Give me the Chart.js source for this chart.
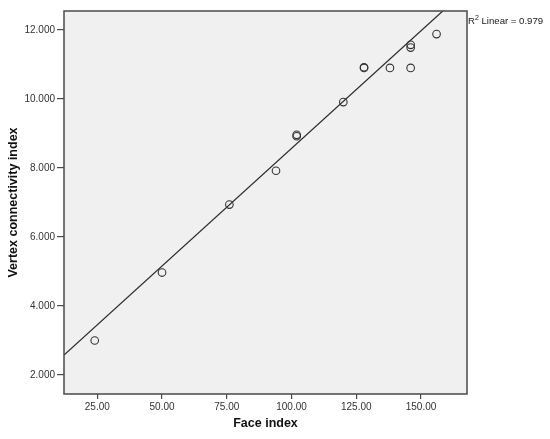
<!DOCTYPE html>
<html>
<head>
<meta charset="utf-8">
<script src="https://cdn.jsdelivr.net/npm/chart.js@4/dist/chart.umd.min.js"></script>
<style>
  html, body { margin: 0; padding: 0; background: #ffffff; }
  #wrap { width: 550px; height: 439px; }
</style>
</head>
<body>
<div id="wrap"><canvas id="c" width="550" height="439"></canvas></div>
<script>
// Data
const faceIndex   = [24, 50, 76, 94, 102, 102, 120, 128, 128, 138, 146, 146, 146, 156];
const vertexIndex = [3.00, 4.97, 6.94, 7.92, 8.92, 8.96, 9.91, 10.90, 10.92, 10.90, 10.90, 11.49, 11.57, 11.88];
const fitLineX = [12.14, 158.4];
const fitLineY = [2.58, 12.55];
const xTicks = [25, 50, 75, 100, 125, 150];
const yTicks = [2, 4, 6, 8, 10, 12];
const r2Text = '0.979';
const xTitle = 'Face index';
const yTitle = 'Vertex connectivity index';

const points = faceIndex.map((x, i) => ({ x: x, y: vertexIndex[i] }));
const fitPts = fitLineX.map((x, i) => ({ x: x, y: fitLineY[i] }));

const plotBg = {
  id: 'plotBg',
  beforeDraw(chart) {
    const { ctx, chartArea: a } = chart;
    ctx.save();
    ctx.fillStyle = '#f0f0f0';
    ctx.fillRect(a.left, a.top, a.right - a.left, a.bottom - a.top);
    ctx.restore();
  },
  afterDraw(chart) {
    const { ctx, chartArea: a } = chart;
    ctx.save();
    ctx.strokeStyle = '#4a4a4a';
    ctx.lineWidth = 1.5;
    ctx.strokeRect(a.left, a.top, a.right - a.left, a.bottom - a.top);
    // R² annotation
    ctx.fillStyle = '#222';
    ctx.textBaseline = 'alphabetic';
    ctx.textAlign = 'left';
    let x = a.right + 1, y = 24;
    ctx.font = '9.6px Arial, "Liberation Sans", sans-serif';
    ctx.fillText('R', x, y);
    x += ctx.measureText('R').width;
    ctx.font = '7px Arial, "Liberation Sans", sans-serif';
    ctx.fillText('2', x, y - 4);
    x += ctx.measureText('2').width;
    ctx.font = '9.6px Arial, "Liberation Sans", sans-serif';
    ctx.fillText(' Linear = ' + r2Text, x, y);
    ctx.restore();
  }
};

new Chart(document.getElementById('c'), {
  type: 'scatter',
  data: {
    datasets: [
      {
        type: 'line',
        data: fitPts,
        borderColor: '#2a2a2a',
        borderWidth: 1.2,
        pointRadius: 0,
        fill: false,
        order: 2
      },
      {
        type: 'scatter',
        data: points,
        pointStyle: 'circle',
        pointRadius: 3.8,
        borderWidth: 1.1,
        borderColor: '#333333',
        backgroundColor: 'rgba(0,0,0,0)',
        order: 1
      }
    ]
  },
  options: {
    responsive: false,
    animation: false,
    events: [],
    layout: { padding: { top: 11, right: 83, left: 0, bottom: 0 } },
    plugins: { legend: { display: false }, tooltip: { enabled: false } },
    scales: {
      x: {
        type: 'linear',
        min: 12.14,
        max: 167.76,
        afterFit(s) { s.height = 45; },
        afterBuildTicks(s) { s.ticks = xTicks.map(v => ({ value: v })); },
        grid: { display: true, drawOnChartArea: false, drawTicks: true, tickLength: 5, color: '#4a4a4a', lineWidth: 1.2 },
        border: { display: false },
        ticks: {
          padding: 2,
          color: '#333',
          font: { family: 'Arial, "Liberation Sans", sans-serif', size: 10 },
          maxRotation: 0,
          callback: v => Number(v).toFixed(2)
        },
        title: {
          display: true,
          text: xTitle,
          color: '#111',
          font: { family: 'Arial, "Liberation Sans", sans-serif', size: 12.5, weight: 'bold' },
          padding: { top: 0, bottom: 7.5 }
        }
      },
      y: {
        type: 'linear',
        min: 1.45,
        max: 12.55,
        afterFit(s) { s.width = 64; },
        afterBuildTicks(s) { s.ticks = yTicks.map(v => ({ value: v })); },
        grid: { display: true, drawOnChartArea: false, drawTicks: true, tickLength: 7, color: '#4a4a4a', lineWidth: 1.2 },
        border: { display: false },
        ticks: {
          padding: 2,
          color: '#333',
          font: { family: 'Arial, "Liberation Sans", sans-serif', size: 10 },
          callback: v => Number(v).toFixed(3)
        },
        title: {
          display: true,
          text: yTitle,
          color: '#111',
          font: { family: 'Arial, "Liberation Sans", sans-serif', size: 12.5, weight: 'bold' },
          padding: { top: 6.5, bottom: 0 }
        }
      }
    }
  },
  plugins: [plotBg]
});
</script>
</body>
</html>
